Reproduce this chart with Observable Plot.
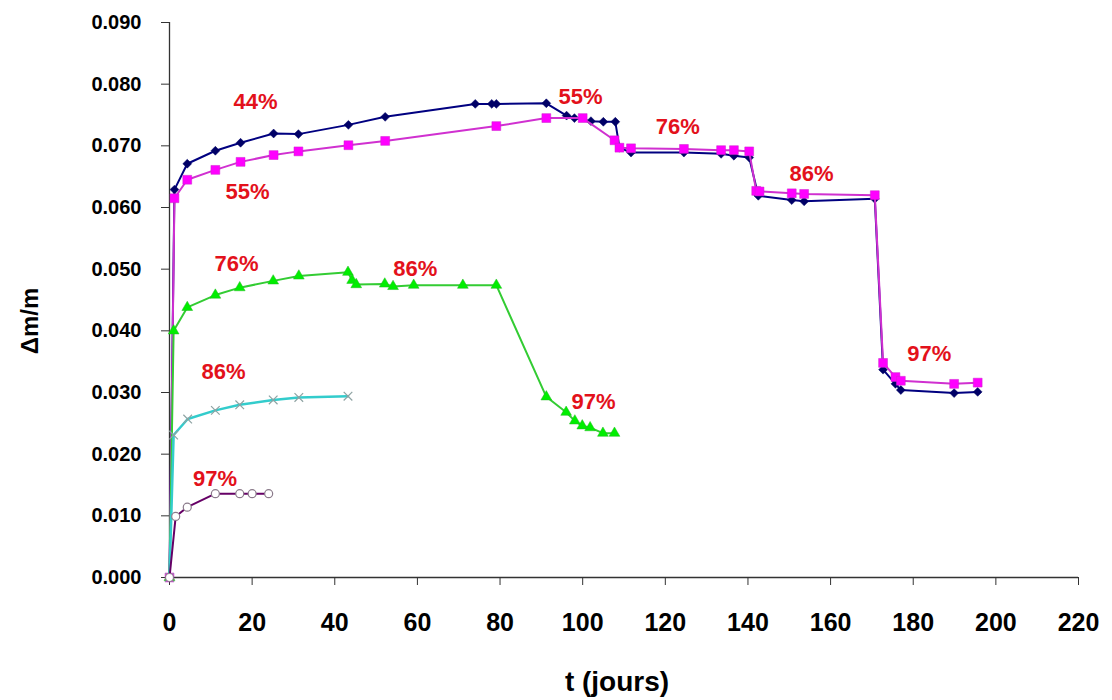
<!DOCTYPE html>
<html>
<head>
<meta charset="utf-8">
<script src="https://cdn.jsdelivr.net/npm/d3@7"></script>
<script src="https://cdn.jsdelivr.net/npm/@observablehq/plot@0.6"></script>
<style>
  html, body { margin: 0; padding: 0; background: #fff; }
</style>
</head>
<body>
<div id="chart"></div>
<script>
// Series A (navy diamonds): 44% -> 55% -> 76% -> 86% -> 97%
const daysA = [0, 1.2, 4.3, 11.1, 17.2, 25.2, 31.2, 43.3, 52.2, 74.0, 78.0, 79.1, 91.2, 96.1, 98.0, 102.0, 105.0, 107.9, 108.9, 111.7, 124.5, 133.5, 136.6, 140.3, 142.5, 150.6, 153.6, 170.7, 172.7, 175.7, 177.0, 189.9, 195.6];
const dmA   = [0, 0.0629, 0.0671, 0.0692, 0.0705, 0.0720, 0.0719, 0.0734, 0.0747, 0.0768, 0.0768, 0.0768, 0.0769, 0.0749, 0.0745, 0.0740, 0.0739, 0.0739, 0.0697, 0.0689, 0.0689, 0.0687, 0.0684, 0.0681, 0.0619, 0.0612, 0.0610, 0.0614, 0.0337, 0.0314, 0.0304, 0.0299, 0.0301];
// Series B (magenta squares): 55% -> 76% -> 86% -> 97%
const daysB = [0, 1.2, 4.3, 11.1, 17.2, 25.2, 31.2, 43.3, 52.2, 79.1, 91.2, 100.0, 107.7, 108.9, 111.7, 124.5, 133.5, 136.6, 140.3, 142.0, 142.8, 150.6, 153.6, 170.7, 172.7, 175.7, 177.0, 189.9, 195.6];
const dmB   = [0, 0.0615, 0.0645, 0.0661, 0.0674, 0.0685, 0.0691, 0.0701, 0.0708, 0.0732, 0.0745, 0.0745, 0.0709, 0.0697, 0.0696, 0.0695, 0.0693, 0.0693, 0.0691, 0.0627, 0.0626, 0.0623, 0.0622, 0.0620, 0.0348, 0.0325, 0.0319, 0.0314, 0.0316];
// Series C (green triangles): 76% -> 86% -> 97%
const daysC = [0, 1.0, 4.3, 11.1, 17.0, 25.1, 31.3, 43.2, 44.2, 45.2, 52.1, 54.1, 59.1, 71.0, 79.1, 91.2, 96.0, 98.1, 99.9, 101.8, 104.9, 107.7];
const dmC   = [0, 0.0400, 0.0438, 0.0458, 0.0470, 0.0481, 0.0489, 0.0495, 0.0482, 0.0475, 0.0476, 0.0472, 0.0474, 0.0474, 0.0474, 0.0293, 0.0268, 0.0254, 0.0246, 0.0243, 0.0234, 0.0234];
// Series D (cyan crosses): 86%
const daysD = [0, 1.0, 4.4, 11.1, 17.0, 25.1, 31.3, 43.2];
const dmD   = [0, 0.0231, 0.0257, 0.0271, 0.0280, 0.0288, 0.0292, 0.0294];
// Series E (purple circles): 97%
const daysE = [0, 1.5, 4.3, 11.1, 17.0, 20.0, 24.0];
const dmE   = [0, 0.0099, 0.0114, 0.0136, 0.0136, 0.0136, 0.0136];

// Relative humidity annotations
const labelText = ["44%", "55%", "55%", "76%", "86%", "97%", "76%", "86%", "97%", "86%", "97%"];
const labelDay  = [20.8, 18.9, 99.5, 123.0, 155.4, 183.9, 16.2, 59.5, 102.6, 13.1, 11.0];
const labelDm   = [0.0771, 0.0625, 0.0779, 0.0730, 0.0655, 0.0362, 0.0509, 0.0501, 0.0284, 0.0333, 0.0160];

// Axis ticks
const xTicks = [0, 20, 40, 60, 80, 100, 120, 140, 160, 180, 200, 220];
const yTicks = [0, 0.01, 0.02, 0.03, 0.04, 0.05, 0.06, 0.07, 0.08, 0.09];

const toRows = (ts, vs) => ts.map((t, i) => ({t, v: vs[i]}));
const A = toRows(daysA, dmA);
const B = toRows(daysB, dmB);
const C = toRows(daysC, dmC);
const D = toRows(daysD, dmD);
const E = toRows(daysE, dmE);
const labels = labelText.map((s, i) => ({s, t: labelDay[i], v: labelDm[i]}));

const chart = Plot.plot({
  width: 1112,
  height: 700,
  marginLeft: 169,
  marginRight: 34,
  marginTop: 22,
  marginBottom: 123,
  x: {domain: [0, 220]},
  y: {domain: [0, 0.09]},
  style: {fontFamily: '"Liberation Sans", Arial, sans-serif', fontWeight: "bold", color: "#000", background: "#fff"},
  marks: [
    Plot.ruleY([0], {stroke: "#333", strokeWidth: 1.3}),
    Plot.ruleX([0], {y1: 0, y2: 0.09, stroke: "#333", strokeWidth: 1.3}),
    Plot.axisY({ticks: yTicks, tickFormat: d3.format(".3f"), tickSize: 8, tickPadding: 20, fontSize: 20, label: null, stroke: "#333"}),
    Plot.axisX({ticks: xTicks, tickFormat: d3.format("d"), tickSize: 8, tickPadding: 28, fontSize: 25, label: null, stroke: "#333"}),
    Plot.text(["Δm/m"], {frameAnchor: "left", textAnchor: "middle", lineAnchor: "middle", dx: -139, dy: 21, rotate: -90, fontSize: 24}),
    Plot.text(["t (jours)"], {frameAnchor: "bottom", textAnchor: "middle", lineAnchor: "middle", dy: 105, dx: -7, fontSize: 28}),

    Plot.line(A, {x: "t", y: "v", stroke: "#000080", strokeWidth: 2}),
    Plot.dot(A, {x: "t", y: "v", symbol: "diamond2", r: 4, fill: "#000066", stroke: "#000066", strokeWidth: 0.5}),

    Plot.line(B, {x: "t", y: "v", stroke: "#d030d0", strokeWidth: 2}),
    Plot.dot(B, {x: "t", y: "v", symbol: "square", r: 5, fill: "#ff00ff", stroke: "#cc22cc", strokeWidth: 0.5}),

    Plot.line(C, {x: "t", y: "v", stroke: "#33cc33", strokeWidth: 2}),
    Plot.dot(C, {x: "t", y: "v", symbol: "triangle", r: 4, fill: "#00ee00", stroke: "#22bb22", strokeWidth: 0.5}),

    Plot.line(D, {x: "t", y: "v", stroke: "#33cccc", strokeWidth: 2.5}),
    Plot.dot(D, {x: "t", y: "v", symbol: "times", r: 4, stroke: "#8fa3a3", strokeWidth: 1.2}),

    Plot.line(E, {x: "t", y: "v", stroke: "#660066", strokeWidth: 2}),
    Plot.dot(E, {x: "t", y: "v", symbol: "circle", r: 4, fill: "#fff", stroke: "#8a7a8a", strokeWidth: 1.2}),

    Plot.text(labels, {x: "t", y: "v", text: "s", fill: "#e3111b", fontSize: 22, fontWeight: "bold"})
  ]
});
document.getElementById("chart").appendChild(chart);
</script>
</body>
</html>
